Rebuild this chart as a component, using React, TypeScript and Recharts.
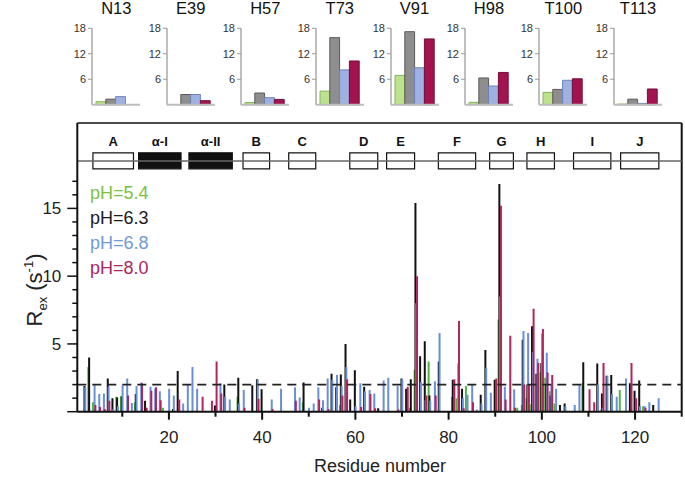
import React from 'react';
import {
  ComposedChart,
  BarChart,
  Bar,
  XAxis,
  YAxis,
  ReferenceLine,
  ReferenceArea,
} from 'recharts';

const FONT = '"Liberation Sans", Arial, Helvetica, sans-serif';
const n = null;

// ---------- main chart data ----------
const residues = Array.from({ length: 125 }, (_, i) => i + 1);

const ph54 = [
  n, n, 3.3, 0.7, n, n, n, n, 1.1, 1.15,
  n, n, 0.7, n, n, n, n, n, 0.3, n,
  n, n, n, n, n, n, n, n, n, n,
  n, n, n, n, 1.1, n, n, n, n, n,
  n, n, n, n, n, n, n, n, 0.7, n,
  n, n, n, n, n, n, 0.5, n, n, n,
  n, n, n, n, n, n, n, n, n, n,
  n, 0.3, 3.1, n, n, 3.7, n, n, n, n,
  1.1, 1.0, n, 1.9, n, n, n, n, n, n,
  6.8, n, n, n, 0.3, 0.5, 1.0, 0.55, 2.8, 2.9,
  2.5, 1.5, 0.6, n, n, n, n, n, 2.1, n,
  n, n, 0.15, n, n, n, 1.6, n, n, n,
  n, 0.4, n, n, n,
];

const ph63 = [
  n, 1.9, 4.0, n, n, n, 2.45, 1.0, 1.05, 1.1,
  n, n, 1.3, n, 0.8, n, n, n, n, n,
  0.2, 3.0, n, n, n, n, n, n, n, 0.45,
  n, 2.0, n, n, 2.5, n, n, 1.95, 2.4, 1.65,
  n, n, n, n, n, n, n, n, 2.15, n,
  n, n, 0.3, n, 2.8, 1.8, 2.75, 5.0, 0.9, 3.05,
  n, 1.85, n, n, 0.25, n, n, n, n, 2.45,
  1.7, 2.4, 15.4, 4.1, 5.2, 1.2, n, 3.7, n, n,
  2.35, n, 1.7, n, n, n, 1.25, 4.55, n, 2.35,
  16.8, n, n, n, n, 5.3, 2.0, 6.3, 2.8, 3.6,
  2.0, 1.2, n, 0.5, 0.6, n, n, n, 3.65, n,
  n, 3.55, 1.35, 2.65, 2.7, n, n, n, 2.1, 1.55,
  2.3, n, n, 0.5, n,
];

const ph68 = [
  n, 1.8, n, 1.95, 1.3, 1.35, 1.85, 0.2, 0.4, 1.95,
  2.45, 0.65, 1.9, 2.15, n, 1.85, 1.7, 1.5, n, 1.7,
  1.2, n, 0.6, 2.0, 3.3, 1.7, n, n, n, n,
  2.1, 1.1, 0.9, n, 0.6, 1.6, n, n, 2.35, n,
  n, 0.9, n, 1.7, n, n, 1.8, 1.05, n, 0.3,
  0.6, 1.8, 0.85, 2.45, 2.35, 2.7, 1.9, 3.3, n, 0.4,
  2.1, 1.5, 1.6, 1.35, n, 2.3, 2.5, n, 1.9, 2.4,
  n, n, 8.0, 2.2, 0.85, 0.8, 2.25, 5.8, n, n,
  n, 3.55, 1.0, 1.25, 2.0, 0.17, 0.6, 3.25, 1.4, n,
  8.5, 1.85, n, 1.65, n, 5.95, 5.8, 4.4, 3.9, 5.75,
  4.35, 2.0, 1.67, n, 0.4, n, 0.5, 1.95, n, n,
  n, 2.0, 0.3, 2.65, 1.3, 1.1, n, 2.45, n, n,
  0.4, 0.4, 0.7, n, 1.0,
];

const ph80 = [
  n, n, n, 0.5, 0.35, 0.2, 0.8, n, n, n,
  1.2, n, n, 2.1, 0.3, 1.55, 1.8, 0.85, n, n,
  n, 0.9, n, n, n, n, 1.1, n, 0.8, 3.7,
  1.35, n, n, n, n, 0.3, n, n, 0.95, n,
  n, 0.2, n, n, n, n, 0.8, n, n, n,
  n, 0.9, n, 0.2, n, n, 1.2, 2.4, n, n,
  0.35, n, 1.3, 0.25, n, n, n, n, 0.17, n,
  1.85, n, 10.0, n, 1.2, n, 1.2, n, n, n,
  2.4, 6.7, 0.25, n, 0.7, n, n, n, n, 2.45,
  15.2, 0.9, 5.6, 0.3, n, 2.0, 2.0, 7.6, 3.6, 6.1,
  2.9, 2.7, n, n, n, n, n, n, n, 1.65,
  0.7, n, 3.6, n, n, n, n, n, 3.6, 1.0,
  n, 0.3, n, n, n,
];

const xTicks = [10, 20, 30, 40, 50, 60, 70, 80, 90, 100, 110, 120, 130];
const yTicks = [0, 1, 2, 3, 4, 5, 6, 7, 8, 9, 10, 11, 12, 13, 14, 15, 16, 17];
const threshold = 2;

// secondary structure (residue ranges)
const structLabels = ['A', 'α-I', 'α-II', 'B', 'C', 'D', 'E', 'F', 'G', 'H', 'I', 'J'];
const structStart = [3.7, 13.5, 24.3, 35.9, 45.7, 58.8, 66.7, 77.8, 88.8, 96.8, 106.8, 116.9];
const structEnd = [12.4, 22.6, 33.6, 41.6, 51.5, 64.8, 72.7, 85.8, 93.9, 102.7, 114.8, 125.1];
const structHelix = [false, true, true, false, false, false, false, false, false, false, false, false];

// ---------- inset data ----------
const insetLabels = ['N13', 'E39', 'H57', 'T73', 'V91', 'H98', 'T100', 'T113'];
const inset54 = [0.7, 0, 0.5, 3.2, 6.9, 0.55, 2.9, 0.15];
const inset63 = [1.3, 2.4, 2.75, 15.8, 17.2, 6.3, 3.6, 1.3];
const inset68 = [1.9, 2.4, 1.65, 8.2, 8.7, 4.4, 5.75, 0.3];
const inset80 = [0, 0.95, 1.25, 10.3, 15.5, 7.6, 6.1, 3.7];
const insetTicks = [6, 12, 18];

const legendLabels = ['pH=5.4', 'pH=6.3', 'pH=6.8', 'pH=8.0'];
const legendColors = ['#7cc242', '#1a1a1a', '#6f9ad8', '#a8275c'];
const barColors = ['#52b440', '#111111', '#6a8fd6', '#b3245c'];

const mainData = residues.map((res, i) => ({
  res,
  g: ph54[i],
  k: ph63[i],
  b: ph68[i],
  r: ph80[i],
}));

const XTick = (props: any) => {
  const { x, y, payload } = props;
  const v = payload.value;
  const major = v % 20 === 0;
  return (
    <g>
      <line x1={x} x2={x} y1={y} y2={y + (major ? 8 : 5)} stroke="#111" strokeWidth={2} />
      {major && v <= 120 ? (
        <text x={x} y={y + 31} textAnchor="middle" fontSize={17} fontFamily={FONT} fill="#222">
          {v}
        </text>
      ) : null}
    </g>
  );
};

const YTick = (props: any) => {
  const { x, y, payload } = props;
  const v = payload.value;
  const major = v % 5 === 0;
  return (
    <g>
      <line x1={x - (major ? 10 : 5)} x2={x} y1={y} y2={y} stroke="#111" strokeWidth={1.5} />
      {major && v > 0 ? (
        <text x={x - 16} y={y + 6} textAnchor="end" fontSize={17} fontFamily={FONT} fill="#222">
          {v}
        </text>
      ) : null}
    </g>
  );
};

const insetAxisX = [92.3, 166.8, 241.3, 315.8, 390.5, 465, 539.3, 614];

const Inset = ({ i }: { i: number }) => {
  const ax = insetAxisX[i];
  const data = [{ name: insetLabels[i], g: inset54[i], k: inset63[i], b: inset68[i], r: inset80[i] }];
  return (
    <>
      <div
        style={{
          position: 'absolute',
          left: ax + 24 - 40,
          top: -1.5,
          width: 80,
          textAlign: 'center',
          fontFamily: FONT,
          fontSize: 16.5,
          color: '#111',
          whiteSpace: 'nowrap',
        }}
      >
        {insetLabels[i]}
      </div>
      <div style={{ position: 'absolute', left: ax - 30, top: 0 }}>
        <BarChart
          width={80}
          height={112}
          data={data}
          margin={{ top: 28.3, right: 2, bottom: 6.3, left: 0 }}
          barGap={0}
          barCategoryGap={0}
        >
          <XAxis dataKey="name" tick={false} tickLine={false} height={1} axisLine={{ stroke: '#bdbdbd', strokeWidth: 2 }} />
          <YAxis
            domain={[0, 18]}
            ticks={insetTicks}
            interval={0}
            width={30}
            tickSize={4}
            tickMargin={2}
            tickLine={{ stroke: '#999' }}
            axisLine={{ stroke: '#aaa', strokeWidth: 1.5 }}
            tick={{ fontSize: 11, fill: '#333333', fontFamily: FONT }}
          />
          <Bar dataKey="g" fill="#bde28e" stroke="#86b35a" strokeWidth={1} barSize={9.8} isAnimationActive={false} />
          <Bar dataKey="k" fill="#8e8e8e" stroke="#5a5a5a" strokeWidth={1} barSize={9.8} isAnimationActive={false} />
          <Bar dataKey="b" fill="#9fb1e0" stroke="#6f83bb" strokeWidth={1} barSize={9.8} isAnimationActive={false} />
          <Bar dataKey="r" fill="#a3134f" stroke="#70103a" strokeWidth={1} barSize={9.8} isAnimationActive={false} />
        </BarChart>
      </div>
    </>
  );
};

export default function App() {
  return (
    <div style={{ position: 'absolute', left: 0, top: 0, width: 685, height: 477, background: '#fff', fontFamily: FONT }}>
      <ComposedChart
        width={685}
        height={477}
        data={mainData}
        margin={{ top: 123, right: 3.3, bottom: 0, left: 17.3 }}
        barGap={-1.2}
      >
        <XAxis
          dataKey="res"
          type="number"
          domain={[0.35, 130]}
          ticks={xTicks}
          interval={0}
          tickSize={0}
          tickMargin={0}
          tickLine={false}
          tick={<XTick />}
          axisLine={{ stroke: '#111', strokeWidth: 2 }}
          height={65.3}
          allowDataOverflow
        />
        <YAxis
          type="number"
          domain={[0, 21.3]}
          ticks={yTicks}
          interval={0}
          tickSize={0}
          tickMargin={0}
          tickLine={false}
          tick={<YTick />}
          axisLine={{ stroke: '#111', strokeWidth: 2 }}
          width={60}
          allowDataOverflow
        />
        <ReferenceLine y={21.3} stroke="#111" strokeWidth={1.5} />
        <ReferenceLine x={130} stroke="#111" strokeWidth={2} />
        <ReferenceLine y={18.5} stroke="#666" strokeWidth={1.5} />
        {structLabels.map((lab, i) => (
          <ReferenceArea
            key={lab}
            x1={structStart[i]}
            x2={structEnd[i]}
            y1={17.92}
            y2={19.1}
            fill={structHelix[i] ? '#111' : '#fff'}
            fillOpacity={1}
            stroke="#111"
            strokeWidth={1.2}
            label={{ value: lab, position: 'top', offset: 7, fill: '#111', fontSize: 13, fontWeight: 'bold', fontFamily: FONT }}
          />
        ))}
        <Bar dataKey="g" fill={barColors[0]} barSize={2} isAnimationActive={false} />
        <Bar dataKey="k" fill={barColors[1]} barSize={2} isAnimationActive={false} />
        <Bar dataKey="b" fill={barColors[2]} barSize={2} isAnimationActive={false} />
        <Bar dataKey="r" fill={barColors[3]} barSize={2} isAnimationActive={false} />
        <ReferenceLine y={threshold} stroke="#222" strokeDasharray="9 6" strokeWidth={1.6} />
      </ComposedChart>

      {insetLabels.map((_, i) => (
        <Inset key={i} i={i} />
      ))}

      {legendLabels.map((lab, i) => (
        <div
          key={lab}
          style={{
            position: 'absolute',
            left: 90,
            top: 182.7 + i * 25,
            fontSize: 18,
            lineHeight: 'normal',
            color: legendColors[i],
            fontFamily: FONT,
            whiteSpace: 'nowrap',
          }}
        >
          {lab}
        </div>
      ))}

      <div
        style={{
          position: 'absolute',
          left: 35,
          top: 290,
          transform: 'translate(-50%, -50%) rotate(-90deg)',
          fontSize: 22,
          lineHeight: 1,
          whiteSpace: 'nowrap',
          color: '#222',
          fontFamily: FONT,
        }}
      >
        R<span style={{ fontSize: 13, position: 'relative', top: 5 }}>ex</span> (s
        <span style={{ fontSize: 13, position: 'relative', top: -9 }}>-1</span>)
      </div>

      <div
        style={{
          position: 'absolute',
          left: 380 - 100,
          top: 455.7,
          width: 200,
          textAlign: 'center',
          fontSize: 18,
          lineHeight: 'normal',
          color: '#222',
          fontFamily: FONT,
        }}
      >
        Residue number
      </div>
    </div>
  );
}
